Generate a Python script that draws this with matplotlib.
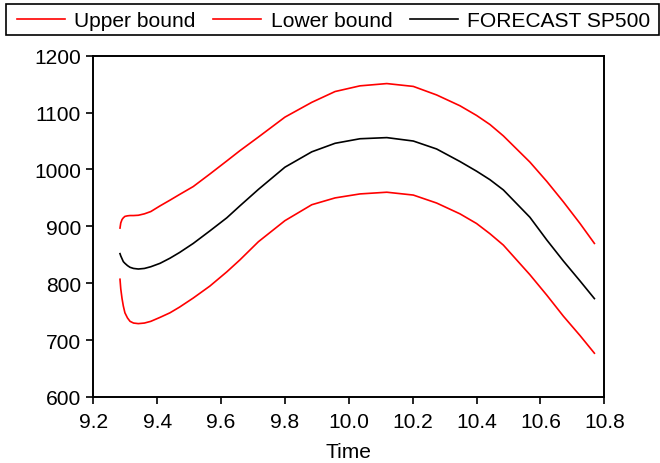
import matplotlib
matplotlib.use("Agg")
import matplotlib.pyplot as plt
from matplotlib.patches import Rectangle

plt.rcParams['font.family'] = ['Liberation Sans', 'DejaVu Sans']

time = [9.2836, 9.286, 9.290, 9.294, 9.299, 9.307, 9.315, 9.326, 9.341, 9.360,
        9.380, 9.409, 9.440, 9.470, 9.513, 9.565, 9.618, 9.659, 9.717, 9.800,
        9.884, 9.957, 10.035, 10.119, 10.202, 10.275, 10.348, 10.400, 10.442,
        10.484, 10.567, 10.620, 10.672, 10.724, 10.769]
upper = [897, 906, 912, 915, 917.5, 918.5, 919, 919, 919.5, 922,
         926, 936, 946, 956, 970, 992, 1015, 1033, 1057, 1092,
         1118, 1137, 1147, 1151, 1146, 1131, 1112, 1095, 1079,
         1059, 1013, 979, 943, 905, 870]
forecast = [852, 848, 843, 838, 835, 831, 828, 826, 825, 826,
            829, 835, 844, 854, 870, 892, 915, 936, 965, 1004,
            1031, 1046, 1054, 1056, 1050, 1036, 1014, 997, 982,
            964, 916, 876, 839, 804, 773]
lower = [807, 790, 773, 760, 748, 739, 733, 730, 729, 730,
         733, 740, 748, 758, 774, 795, 820, 841, 873, 910,
         938, 950, 957, 960, 955, 941, 922, 905, 887,
         867, 815, 779, 742, 708, 677]

xticks = [9.2, 9.4, 9.6, 9.8, 10.0, 10.2, 10.4, 10.6, 10.8]
yticks = [600, 700, 800, 900, 1000, 1100, 1200]

FS = 15.1
W, H = 660, 464

fig = plt.figure(figsize=(6.6, 4.64), dpi=100)
ax = fig.add_axes([93.3 / W, 1 - 398 / H, (604.3 - 93.3) / W, (398 - 56.7) / H])

l1, = ax.plot(time, upper, color='#ff0000', lw=1.2, label='Upper bound')
l2, = ax.plot(time, lower, color='#ff0000', lw=1.2, label='Lower bound')
l3, = ax.plot(time, forecast, color='black', lw=1.2, label='FORECAST SP500')

ax.set_xlim(9.2, 10.8)
ax.set_ylim(600, 1200)
ax.set_xticks(xticks)
ax.set_xticklabels([f"{v:.1f}" for v in xticks])
ax.set_yticks(yticks)
ax.tick_params(axis='both', direction='out', length=5, width=1.2, labelsize=FS,
               top=False, right=False)
ax.tick_params(axis='y', pad=4)
ax.tick_params(axis='x', pad=6)
for s in ax.spines.values():
    s.set_linewidth(1.4)
    s.set_color('black')
ax.set_xlabel('Time', fontsize=FS, labelpad=8)

leg = fig.legend(handles=[l1, l2, l3], loc='center left',
                 bbox_to_anchor=(17 / W, 1 - 21.5 / H),
                 ncol=3, fontsize=FS, frameon=False,
                 handlelength=2.29, handletextpad=0.45, columnspacing=0.83,
                 borderaxespad=0, borderpad=0)
fig.add_artist(Rectangle((6 / W, 1 - 36 / H), 653 / W, 31.5 / H,
                         transform=fig.transFigure, fill=False,
                         edgecolor='black', linewidth=1.2))

fig.savefig('out.png', dpi=100)
